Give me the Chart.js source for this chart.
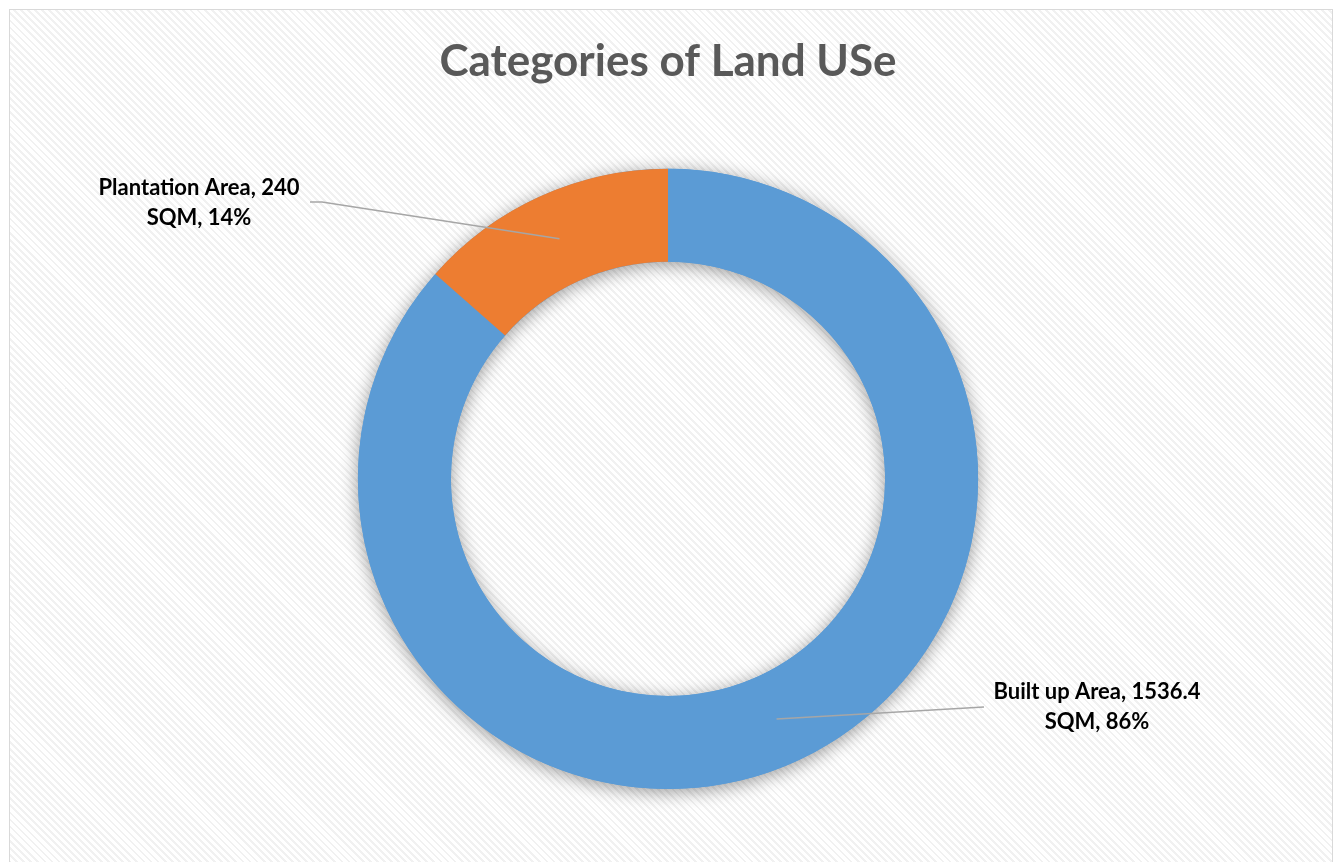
<!DOCTYPE html>
<html>
<head>
<meta charset="utf-8">
<script src="https://cdn.jsdelivr.net/npm/chart.js@4/dist/chart.umd.min.js"></script>
<style>
    html, body {
        margin: 0;
        padding: 0;
        background: #ffffff;
        overflow: hidden;
    }
    #frame {
        position: absolute;
        left: 9px;
        top: 9px;
        width: 1322px;
        height: 900px;
        border: 1px solid #d9d9d9;
        background: repeating-linear-gradient(45deg, #ffffff 0px, #ffffff 3px, #f1f1f1 3px, #f1f1f1 5px);
    }
    #wrap {
        position: absolute;
        left: 0;
        top: 0;
        width: 1339px;
        height: 862px;
    }
</style>
</head>
<body>
<div id="frame"></div>
<div id="wrap"><canvas id="landChart"></canvas></div>
<script>
// Данные диаграммы
const categories = ['Built up Area', 'Plantation Area'];
const areaValues = [1536.4, 240];
const areaUnit = 'SQM';
const sliceColors = ['#5B9BD5', '#ED7D31'];
const chartTitle = 'Categories of Land USe';

const FONT = "Lato, Calibri, Carlito, 'Open Sans', sans-serif";

// Тень под кольцом (рисуется один раз, чтобы сегменты не затеняли друг друга)
const ringShadow = {
    id: 'ringShadow',
    beforeDatasetsDraw(chart) {
        const arc = chart.getDatasetMeta(0).data[0];
        if (!arc) return;
        const {x, y, outerRadius, innerRadius} = arc.getProps(['x', 'y', 'outerRadius', 'innerRadius'], true);
        const ctx = chart.ctx;
        ctx.save();
        ctx.shadowColor = 'rgba(0, 0, 0, 0.4)';
        ctx.shadowBlur = 18;
        ctx.shadowOffsetX = 0;
        ctx.shadowOffsetY = 3;
        ctx.beginPath();
        ctx.arc(x, y, outerRadius, 0, Math.PI * 2);
        ctx.arc(x, y, innerRadius, 0, Math.PI * 2, true);
        ctx.fillStyle = sliceColors[0];
        ctx.fill('evenodd');
        ctx.restore();
    }
};

// Подписи с выносками
const calloutLabels = {
    id: 'calloutLabels',
    afterDatasetsDraw(chart, args, opts) {
        const ctx = chart.ctx;
        const meta = chart.getDatasetMeta(0);
        const total = areaValues.reduce((a, b) => a + b, 0);
        meta.data.forEach((arc, i) => {
            const pos = opts.positions[i];
            const anchor = arc.getCenterPoint();
            ctx.save();
            ctx.strokeStyle = '#a6a6a6';
            ctx.lineWidth = 1.5;
            ctx.beginPath();
            ctx.moveTo(anchor.x, anchor.y);
            ctx.lineTo(pos.elbowX, pos.lineY);
            ctx.lineTo(pos.lineX, pos.lineY);
            ctx.stroke();

            const pct = Math.round(areaValues[i] / total * 100);
            const lines = [`${categories[i]}, ${areaValues[i]}`, `${areaUnit}, ${pct}%`];
            ctx.fillStyle = '#000000';
            ctx.font = `bold ${opts.fontSize}px ${FONT}`;
            ctx.textAlign = 'center';
            ctx.textBaseline = 'middle';
            const lh = opts.lineHeight;
            lines.forEach((t, k) => {
                ctx.fillText(t, pos.textX, pos.textY + (k - (lines.length - 1) / 2) * lh);
            });
            ctx.restore();
        });
    }
};

const ctx = document.getElementById('landChart').getContext('2d');
new Chart(ctx, {
    type: 'doughnut',
    data: {
        labels: categories,
        datasets: [{
            data: areaValues,
            backgroundColor: sliceColors,
            borderWidth: 0,
            hoverOffset: 0
        }]
    },
    options: {
        responsive: true,
        maintainAspectRatio: false,
        animation: false,
        cutout: '70%',
        layout: {
            padding: {left: 0, right: 3, top: 0, bottom: 73}
        },
        plugins: {
            legend: {display: false},
            tooltip: {enabled: false},
            title: {
                display: true,
                text: chartTitle,
                color: '#595959',
                font: {family: FONT, size: 44, weight: 'bold', lineHeight: 1.2},
                padding: {top: 35, bottom: 81}
            },
            calloutLabels: {
                fontSize: 22,
                lineHeight: 30,
                positions: [
                    {textX: 1097, textY: 707, lineX: 984, elbowX: 984, lineY: 707},
                    {textX: 199, textY: 203, lineX: 310, elbowX: 322, lineY: 202}
                ]
            }
        }
    },
    plugins: [ringShadow, calloutLabels]
});
</script>
</body>
</html>
